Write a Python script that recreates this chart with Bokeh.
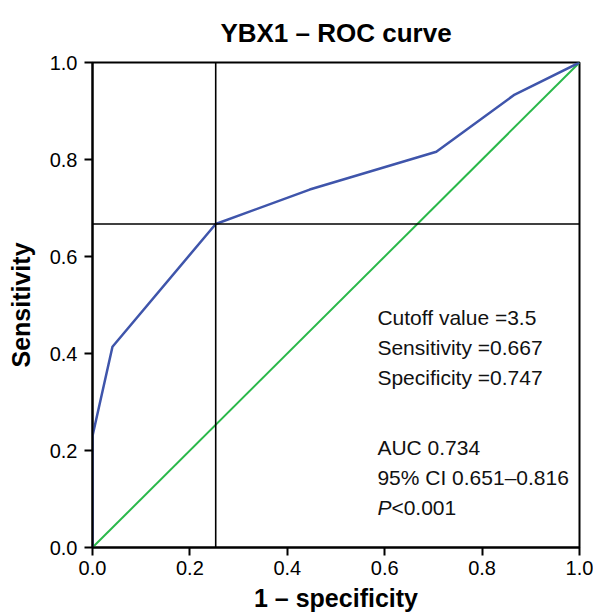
from bokeh.plotting import figure
from bokeh.models import Range1d, Span, FixedTicker, NumeralTickFormatter
from bokeh.core.properties import value
from bokeh.embed import file_html
from bokeh.resources import INLINE

# ROC curve data
fpr = [0.0, 0.0, 0.041, 0.253, 0.446, 0.706, 0.867, 1.0]
tpr = [0.0, 0.23, 0.414, 0.667, 0.738, 0.816, 0.934, 1.0]
diag_x = [0.0, 1.0]
diag_y = [0.0, 1.0]
cutoff_fpr = 0.253
cutoff_tpr = 0.667
ticks = [0.0, 0.2, 0.4, 0.6, 0.8, 1.0]
info_lines = ["Cutoff value =3.5", "Sensitivity =0.667", "Specificity =0.747",
              "AUC 0.734", "95% CI 0.651\u20130.816"]
info_y = [0.474, 0.412, 0.351, 0.206, 0.144]
p_y = 0.082

FONT = "Liberation Sans"

p = figure(width=593, height=616, output_backend="svg", toolbar_location=None,
           x_range=Range1d(0, 1), y_range=Range1d(0, 1),
           min_border_left=92, min_border_right=14, min_border_top=62, min_border_bottom=69)

p.title.text = "YBX1 \u2013 ROC curve"
p.title.align = "center"
p.title.text_font = FONT
p.title.text_font_size = "26px"
p.title.text_font_style = "bold"
p.title.text_color = "black"
p.title.offset = 0
p.title.standoff = 30

p.grid.visible = False
p.outline_line_color = "black"
p.outline_line_width = 2
p.outline_line_alpha = 1

for ax in (p.xaxis, p.yaxis):
    ax.ticker = FixedTicker(ticks=ticks)
    ax.formatter = NumeralTickFormatter(format="0.0")
    ax.major_label_text_font = FONT
    ax.major_label_text_font_size = "20px"
    ax.major_label_text_color = "black"
    ax.axis_label_text_font = FONT
    ax.axis_label_text_font_size = "25px"
    ax.axis_label_text_font_style = "bold"
    ax.axis_label_text_color = "black"
    ax.axis_line_width = 2
    ax.axis_line_color = "black"
    ax.major_tick_line_width = 2
    ax.major_tick_line_color = "black"
    ax.major_tick_out = 8
    ax.major_tick_in = 0
    ax.minor_tick_line_color = None

p.xaxis.axis_label = "1 \u2013 specificity"
p.yaxis.axis_label = "Sensitivity"
p.xaxis.major_label_standoff = 5
p.yaxis.major_label_standoff = 7
p.xaxis.axis_label_standoff = 6
p.yaxis.axis_label_standoff = 12

p.line(diag_x, diag_y, line_color="#2ab84a", line_width=2)
p.line(fpr, tpr, line_color="#3f55ab", line_width=2.5)

p.add_layout(Span(location=cutoff_fpr, dimension="height", line_color="black", line_width=1.6))
p.add_layout(Span(location=cutoff_tpr, dimension="width", line_color="black", line_width=1.6))

p.text(x=[0.585] * len(info_lines), y=info_y, text=info_lines,
       text_font=value(FONT), text_font_size="21px", text_baseline="middle",
       text_align="left", text_color="#111111")
p.text(x=[0.585], y=[p_y], text=["P"], text_font=value(FONT), text_font_size="21px",
       text_font_style="italic", text_baseline="middle", text_align="left", text_color="#111111")
p.text(x=[0.585], y=[p_y], text=["<0.001"], x_offset=14, text_font=value(FONT),
       text_font_size="21px", text_baseline="middle", text_align="left", text_color="#111111")

open("out.html", "w").write(file_html(p, INLINE))
